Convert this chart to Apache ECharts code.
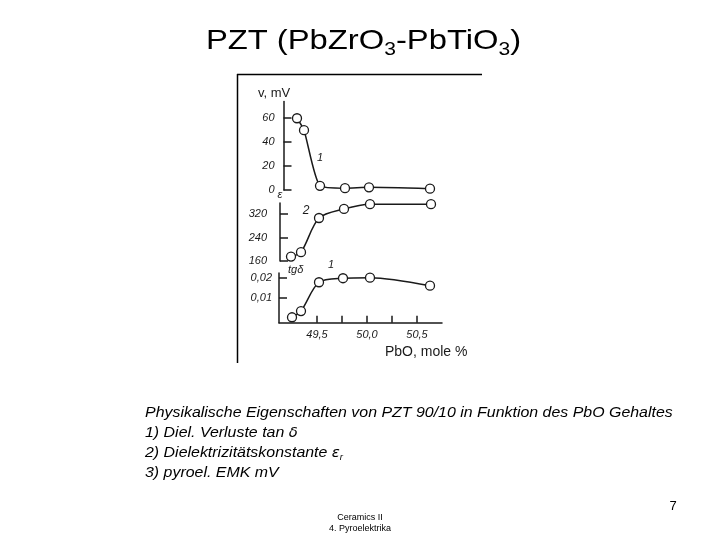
<!DOCTYPE html>
<html><head><meta charset="utf-8">
<script src="https://cdn.jsdelivr.net/npm/echarts@6/dist/echarts.min.js"></script>
<style>html,body{margin:0;padding:0;background:#fff}#c{width:720px;height:540px}</style>
</head><body><div id="c"></div>
<script>
// ---- data ----
const pboEmk = [49.30, 49.37, 49.53, 49.78, 50.02, 50.63];
const emkValues = [60, 50, 3.5, 1.5, 2.2, 1.1];
const pboEps = [49.24, 49.34, 49.52, 49.77, 50.03, 50.64];
const epsValues = [175, 190, 306, 337, 353, 353];
const pboTan = [49.25, 49.34, 49.52, 49.76, 50.03, 50.63];
const tanValues = [0.0005, 0.0036, 0.0179, 0.0199, 0.0202, 0.0162];
const xTicks = [49.5, 49.75, 50.0, 50.25, 50.5];
const xTickLabels = [49.5, 50.0, 50.5];
const emkTicks = [0, 20, 40, 60];
const epsTicks = [160, 240, 320];
const tanTicks = [0.01, 0.02];
const titleText = 'PZT (PbZrO{s|3}-PbTiO{s|3})';
const captionLines = [
  'Physikalische Eigenschaften von PZT 90/10 in Funktion des PbO Gehaltes',
  '1) Diel. Verluste tan {g|δ}',
  '2) Dielektrizitätskonstante {g|ε}{s|r}',
  '3) pyroel. EMK mV'
];

const fontFam = 'Liberation Sans';
const inkColor = '#1a1a1a';
const chart = echarts.init(document.getElementById('c'), null, {renderer: 'canvas'});

const grids = [
  {left: 279, top: 101.5, width: 163, height: 88.5},
  {left: 279, top: 203, width: 163, height: 58},
  {left: 279, top: 273, width: 163, height: 49.7}
];
const xBase = i => ({
  type: 'value', gridIndex: i, min: 49.12, max: 50.75,
  splitLine: {show: false},
  axisLine: {show: i === 2, onZero: false, lineStyle: {color: inkColor, width: 1.5}},
  axisTick: {show: i === 2, inside: true, length: 7, customValues: xTicks, lineStyle: {color: inkColor, width: 1.5}},
  axisLabel: {show: i === 2, customValues: xTickLabels, formatter: v => Number(v).toFixed(1).replace('.', ','),
    fontFamily: fontFam, fontStyle: 'italic', fontSize: 11, color: inkColor, margin: 7}
});
const yBase = (i, min, max, ticks, offset, margin, fmt) => ({
  type: 'value', gridIndex: i, min: min, max: max, offset: offset,
  splitLine: {show: false},
  axisLine: {show: true, onZero: false, lineStyle: {color: inkColor, width: 1.5}},
  axisTick: {show: true, inside: true, length: 8, customValues: ticks, lineStyle: {color: inkColor, width: 1.5}},
  axisLabel: {customValues: ticks, formatter: fmt, margin: margin,
    fontFamily: fontFam, fontStyle: 'italic', fontSize: 11, color: inkColor}
});
const seriesBase = (i, xs, ys, sm) => ({
  type: 'line', xAxisIndex: i, yAxisIndex: i,
  data: xs.map((x, k) => [x, ys[k]]),
  smooth: sm, symbol: 'circle', symbolSize: 9,
  lineStyle: {color: inkColor, width: 1.5},
  itemStyle: {color: '#fff', borderColor: inkColor, borderWidth: 1.3},
  z: 3, silent: true
});
const txt = (x, y, text, size, align, extra) => Object.assign({
  type: 'text', x: x, y: y, silent: true,
  style: Object.assign({text: text, fontFamily: fontFam, fontStyle: 'italic', fontSize: size,
    fill: inkColor, align: align || 'left', verticalAlign: 'middle'}, extra || {})
});
const capRich = {
  g: {fontFamily: 'DejaVu Sans', fontStyle: 'italic', fontSize: 14, fill: '#000'},
  s: {fontFamily: fontFam, fontStyle: 'italic', fontSize: 9, verticalAlign: 'bottom', lineHeight: 18, fill: '#000'}
};
const capLine = (y, t) => Object.assign(txt(145, y, t, 15, 'left', {fill: '#000', rich: capRich}), {scaleX: 1.062});

chart.setOption({
  animation: false,
  backgroundColor: '#fff',
  grid: grids,
  xAxis: [xBase(0), xBase(1), xBase(2)],
  yAxis: [
    yBase(0, 0, 74, emkTicks, -4.5, 9, v => String(v)),
    yBase(1, 160, 357, epsTicks, -1, 13, v => String(v)),
    yBase(2, -0.0022, 0.0225, tanTicks, 0, 7, v => Number(v).toFixed(2).replace('.', ','))
  ],
  series: [
    seriesBase(0, pboEmk, emkValues, 0.2),
    seriesBase(1, pboEps, epsValues, 0.3),
    seriesBase(2, pboTan, tanValues, 0.3)
  ],
  graphic: [
    {type: 'text', x: 363.5, y: 41, scaleX: 1.17, silent: true,
      style: {text: titleText, fontFamily: fontFam, fontSize: 28, fill: '#000', align: 'center', verticalAlign: 'middle', lineHeight: 36,
        rich: {s: {fontFamily: fontFam, fontSize: 18, fill: '#000', verticalAlign: 'bottom', lineHeight: 36}}}},
    {type: 'line', silent: true, shape: {x1: 237, y1: 74.5, x2: 482, y2: 74.5}, style: {stroke: '#000', lineWidth: 1.5}},
    {type: 'line', silent: true, shape: {x1: 237.5, y1: 74, x2: 237.5, y2: 363}, style: {stroke: '#000', lineWidth: 1.5}},
    txt(258, 93, 'v, mV', 13, 'left', {fontStyle: 'normal'}),
    txt(280, 195, 'ε', 11, 'center'),
    txt(288, 270, 'tgδ', 11),
    txt(320, 158, '1', 11, 'center'),
    txt(306, 211, '2', 12, 'center'),
    txt(331, 265, '1', 11, 'center'),
    txt(385, 352, 'PbO, mole %', 14, 'left', {fontStyle: 'normal'}),
    capLine(413, captionLines[0]),
    capLine(433, captionLines[1]),
    capLine(453, captionLines[2]),
    capLine(473, captionLines[3]),
    {type: 'text', x: 673, y: 506, silent: true, style: {text: '7', fontFamily: fontFam, fontSize: 13, fill: '#000', align: 'center', verticalAlign: 'middle'}},
    {type: 'text', x: 360, y: 518, silent: true, style: {text: 'Ceramics II', fontFamily: fontFam, fontSize: 9, fill: '#000', align: 'center', verticalAlign: 'middle'}},
    {type: 'text', x: 360, y: 529, silent: true, style: {text: '4. Pyroelektrika', fontFamily: fontFam, fontSize: 9, fill: '#000', align: 'center', verticalAlign: 'middle'}}
  ]
});
</script></body></html>
